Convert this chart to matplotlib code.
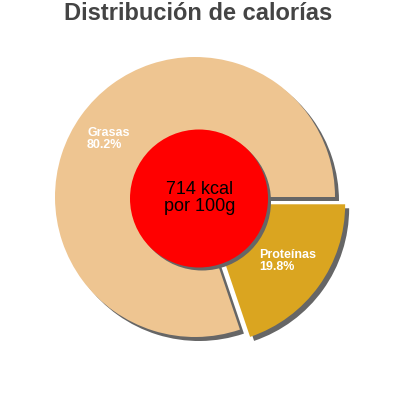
import matplotlib
matplotlib.use('Agg')
from matplotlib import pyplot as plt
from matplotlib.patches import Circle

# data
labels = ['Grasas', 'Proteínas']
percents = [80.2, 19.8]
colors = ['#EEC591', '#DAA520']
kcal = 714

plt.rcParams['font.family'] = ['Liberation Sans', 'DejaVu Sans']

fig = plt.figure(figsize=(4, 4), dpi=100)
ax = fig.add_axes([0, 0, 1, 1])

cx, cy, r = 195, 203, 140
# pie() offsets exploded slices in data units, not in radii
explode = [0, 12.5]

# shadow first, then the real slices on top
ax.pie(percents, explode=explode, colors=['#666666'] * 2, startangle=0,
       center=(cx + 4, cy - 4), radius=r, frame=True,
       wedgeprops=dict(linewidth=0))
wedges, _ = ax.pie(percents, explode=explode, colors=colors, startangle=0,
                   center=(cx, cy), radius=r, frame=True,
                   wedgeprops=dict(linewidth=0))
ax.set_xlim(0, 400)
ax.set_ylim(0, 400)
ax.set_aspect('equal')
ax.axis('off')

# slice labels
ax.text(87, 400 - 127, '%s\n%.1f%%' % (labels[0], percents[0]), color='white',
        fontsize=9, fontweight='bold', ha='left', va='top', linespacing=0.95)
ax.text(259, 400 - 249, '%s\n%.1f%%' % (labels[1], percents[1]), color='white',
        fontsize=9, fontweight='bold', ha='left', va='top', linespacing=0.95)

# centre disc
ax.add_patch(Circle((199 + 3, 400 - 198.5 - 3), 69, color='#666666', lw=0))
ax.add_patch(Circle((199, 400 - 198.5), 69, color='#FF0000', lw=0))
ax.text(200, 400 - 198, '%d kcal\npor 100g' % kcal, color='black',
        fontsize=13, ha='center', va='center', linespacing=1.0)

fig.text(0.495, 0.995, 'Distribución de calorías', color='#444444',
         fontsize=17, fontweight='bold', ha='center', va='top')

fig.savefig('out.png', dpi=100, facecolor='white')
